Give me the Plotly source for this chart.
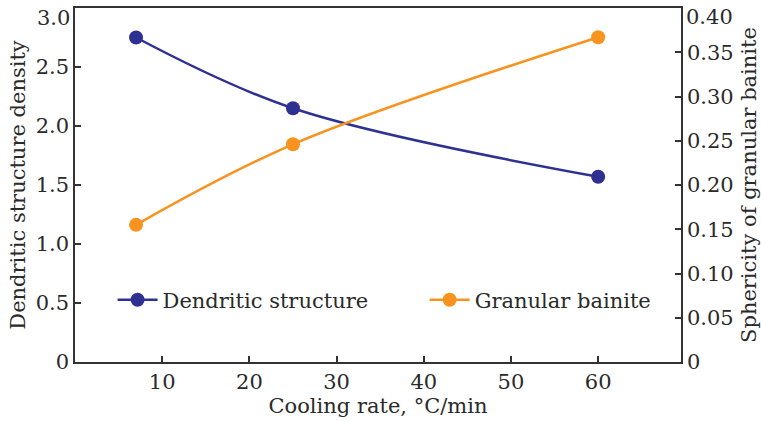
import plotly.graph_objects as go

cooling_rate = [7, 25, 60]
dendritic_density = [2.75, 2.15, 1.57]
bainite_sphericity = [0.155, 0.246, 0.367]

left_ticks = [0, 0.5, 1.0, 1.5, 2.0, 2.5, 3.0]
left_labels = ["0", "0.5", "1.0", "1.5", "2.0", "2.5", "3.0"]
right_ticks = [0, 0.05, 0.10, 0.15, 0.20, 0.25, 0.30, 0.35, 0.40]
right_labels = ["0", "0.05", "0.10", "0.15", "0.20", "0.25", "0.30", "0.35", "0.40"]
x_ticks = [10, 20, 30, 40, 50, 60]

BLUE = "#2e3192"
ORANGE = "#f7931e"
AX = "#333333"
TXT = "#2a2a2a"
FONT = "DejaVu Serif"
FS = 21

common = dict(showgrid=False, zeroline=False, showline=True, linecolor=AX, linewidth=1.5,
              ticks="inside", ticklen=6, tickcolor=AX, tickwidth=1.5, automargin=False,
              tickfont=dict(family=FONT, size=FS, color=TXT))

fig = go.Figure()
fig.add_trace(go.Scatter(
    x=cooling_rate, y=dendritic_density, name="Dendritic structure",
    mode="lines+markers", line=dict(color=BLUE, width=2.5, shape="spline", smoothing=1),
    marker=dict(color=BLUE, size=14), yaxis="y", legend="legend"))
fig.add_trace(go.Scatter(
    x=cooling_rate, y=bainite_sphericity, name="Granular bainite",
    mode="lines+markers", line=dict(color=ORANGE, width=2.5, shape="spline", smoothing=1),
    marker=dict(color=ORANGE, size=14), yaxis="y2", legend="legend2"))

# top tick labels drawn slightly below the frame top, as in the reference
left_text = left_labels[:-1] + [""]
right_text = right_labels[:-1] + [""]

leg = dict(orientation="h", y=0.175, xanchor="left", yanchor="middle",
           bgcolor="rgba(0,0,0,0)", font=dict(family=FONT, size=FS, color=TXT), itemwidth=40)

fig.update_layout(
    width=761, height=421,
    margin=dict(l=75, r=80, t=8, b=59),
    paper_bgcolor="white", plot_bgcolor="white",
    font=dict(family=FONT, size=FS, color=TXT),
    xaxis=dict(range=[0, 69.5], tickvals=x_ticks, mirror=True,
               title=dict(text="Cooling rate, °C/min", font=dict(family=FONT, size=FS), standoff=2),
               **common),
    yaxis=dict(range=[0, 3.0], tickvals=left_ticks, ticktext=left_text,
               title=dict(text="Dendritic structure density", font=dict(family=FONT, size=FS), standoff=4),
               **common),
    yaxis2=dict(range=[0, 0.40], tickvals=right_ticks, ticktext=right_text,
                overlaying="y", side="right",
                title=dict(text="Sphericity of granular bainite", font=dict(family=FONT, size=FS), standoff=9),
                **common),
    legend=dict(x=0.062, **leg),
    legend2=dict(x=0.577, **leg),
    showlegend=True,
    annotations=[
        dict(text=left_labels[-1], xref="paper", x=0, yref="y", y=left_ticks[-1],
             xanchor="right", yanchor="middle", xshift=-3, yshift=-10, showarrow=False,
             font=dict(family=FONT, size=FS, color=TXT)),
        dict(text=right_labels[-1], xref="paper", x=1, yref="y2", y=right_ticks[-1],
             xanchor="left", yanchor="middle", xshift=3, yshift=-9, showarrow=False,
             font=dict(family=FONT, size=FS, color=TXT)),
    ],
)

fig.write_html("out.html", config={"displayModeBar": False},
               post_script="document.body.style.margin='0px';")
